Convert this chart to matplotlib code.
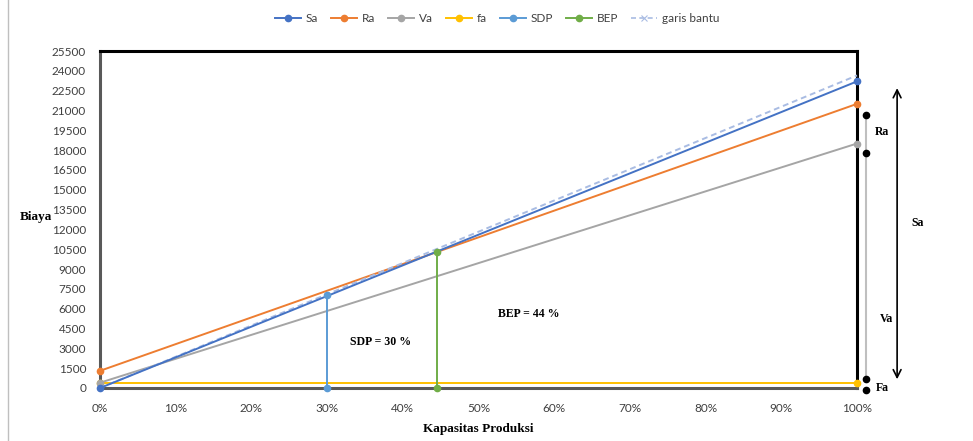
import matplotlib
matplotlib.use("Agg")
import matplotlib.pyplot as plt
from matplotlib.lines import Line2D

# ---- data ----
kapasitas = [0.0, 1.0]
sa_vals = [0, 23200]
ra_vals = [1300, 21500]
va_vals = [400, 18500]
fa_vals = [400, 400]
sdp_x = [0.30, 0.30]
sdp_y = [0, 7000]
bep_x = [0.445, 0.445]
bep_y = [0, 10300]
bantu_vals = [0, 23650]
y_ticks = list(range(0, 25501, 1500))
x_ticks = [i / 10 for i in range(11)]
x_labels = [f"{i*10}%" for i in range(11)]

# right-side annotation values
ra_bracket = [20650, 17750]
fa_bracket = [700, -150]
sa_arrow = [22900, 450]

c_sa = "#4472C4"
c_ra = "#ED7D31"
c_va = "#A5A5A5"
c_fa = "#FFC000"
c_sdp = "#5B9BD5"
c_bep = "#70AD47"
c_bantu = "#A9BCE3"

fig = plt.figure(figsize=(9.73, 4.41), dpi=100)
ax = fig.add_axes([100/973, 1-388/441, (857-100)/973, (388-51)/441])

ms = 4.5
lw = 1.4
ax.plot(kapasitas, fa_vals, color=c_fa, lw=lw, marker="o", ms=ms, label="fa", zorder=3)
ax.plot(kapasitas, va_vals, color=c_va, lw=lw, marker="o", ms=ms, label="Va", zorder=3)
ax.plot(kapasitas, ra_vals, color=c_ra, lw=lw, marker="o", ms=ms, label="Ra", zorder=3)
ax.plot(kapasitas, bantu_vals, color=c_bantu, lw=lw, ls=(0, (3, 2)), label="garis bantu", zorder=3)
ax.plot(kapasitas, sa_vals, color=c_sa, lw=lw, marker="o", ms=ms, label="Sa", zorder=4)
ax.plot(sdp_x, sdp_y, color=c_sdp, lw=lw, marker="o", ms=ms, label="SDP", zorder=4)
ax.plot(bep_x, bep_y, color=c_bep, lw=lw, marker="o", ms=ms, label="BEP", zorder=4)
for ln in ax.lines:
    ln.set_clip_on(False)

ax.set_xlim(0, 1)
ax.set_ylim(0, 25500)
ax.set_yticks(y_ticks)
ax.set_yticklabels([str(v) for v in y_ticks])
ax.set_xticks(x_ticks)
ax.set_xticklabels(x_labels)
ax.tick_params(length=0, labelsize=8.5, colors="#404040")
ax.tick_params(axis="y", pad=10)
ax.tick_params(axis="x", pad=11)
for lab in ax.get_xticklabels() + ax.get_yticklabels():
    lab.set_fontfamily("Lato")

for s in ["top", "right"]:
    ax.spines[s].set_color("black")
    ax.spines[s].set_linewidth(2.2)
for s in ["left", "bottom"]:
    ax.spines[s].set_color("#595959")
    ax.spines[s].set_linewidth(2.2)

serif = "Liberation Serif"
ax.set_ylabel("Biaya", fontfamily=serif, fontweight="bold", fontsize=9.5, rotation=0, labelpad=0)
ax.yaxis.set_label_coords(-0.085, 0.49)
ax.set_xlabel("Kapasitas Produksi", fontfamily=serif, fontweight="bold", fontsize=9.5, labelpad=6)

ax.text(0.37, 3450, "SDP = 30 %", fontfamily=serif, fontweight="bold", fontsize=8.5, ha="center", va="center")
ax.text(0.566, 5600, "BEP = 44 %", fontfamily=serif, fontweight="bold", fontsize=8.5, ha="center", va="center")

# right annotations
xg = 1.012
ax.plot([xg, xg], [ra_bracket[0], 600], color="#BFBFBF", lw=1.5, clip_on=False, zorder=2)
ax.plot([xg, xg], ra_bracket, "o", color="black", ms=4.5, clip_on=False, zorder=5)
ax.plot([xg, xg], fa_bracket, "o", color="black", ms=4.5, clip_on=False, zorder=5)
ax.annotate("", xy=(1.053, sa_arrow[0]), xytext=(1.053, sa_arrow[1]),
            arrowprops=dict(arrowstyle="<->", color="black", lw=1.2, mutation_scale=14),
            annotation_clip=False)
ax.text(1.023, 19350, "Ra", fontfamily=serif, fontweight="bold", fontsize=8.5, ha="left", va="center")
ax.text(1.030, 5200, "Va", fontfamily=serif, fontweight="bold", fontsize=8.5, ha="left", va="center")
ax.text(1.025, 0, "Fa", fontfamily=serif, fontweight="bold", fontsize=8.5, ha="left", va="center")
ax.text(1.072, 12500, "Sa", fontfamily=serif, fontweight="bold", fontsize=8.5, ha="left", va="center")

# legend
handles = [
    Line2D([], [], color=c_sa, lw=lw, marker="o", ms=ms),
    Line2D([], [], color=c_ra, lw=lw, marker="o", ms=ms),
    Line2D([], [], color=c_va, lw=lw, marker="o", ms=ms),
    Line2D([], [], color=c_fa, lw=lw, marker="o", ms=ms),
    Line2D([], [], color=c_sdp, lw=lw, marker="o", ms=ms),
    Line2D([], [], color=c_bep, lw=lw, marker="o", ms=ms),
    Line2D([], [], color=c_bantu, lw=1.2, ls=(0, (3, 2)), marker="x", ms=ms, mew=0.8),
]
labels = ["Sa", "Ra", "Va", "fa", "SDP", "BEP", "garis bantu"]
leg = fig.legend(handles, labels, loc="center", bbox_to_anchor=(497/973, 1-19/441), ncol=7,
                 frameon=False, handlelength=2.2, columnspacing=1.1, handletextpad=0.4,
                 prop={"family": "Lato", "size": 8.5})
for t in leg.get_texts():
    t.set_color("#404040")

# left border line of figure
fig.add_artist(Line2D([8/973, 8/973], [0, 1], color="#BFBFBF", lw=1))

fig.savefig("out.png", dpi=100)
